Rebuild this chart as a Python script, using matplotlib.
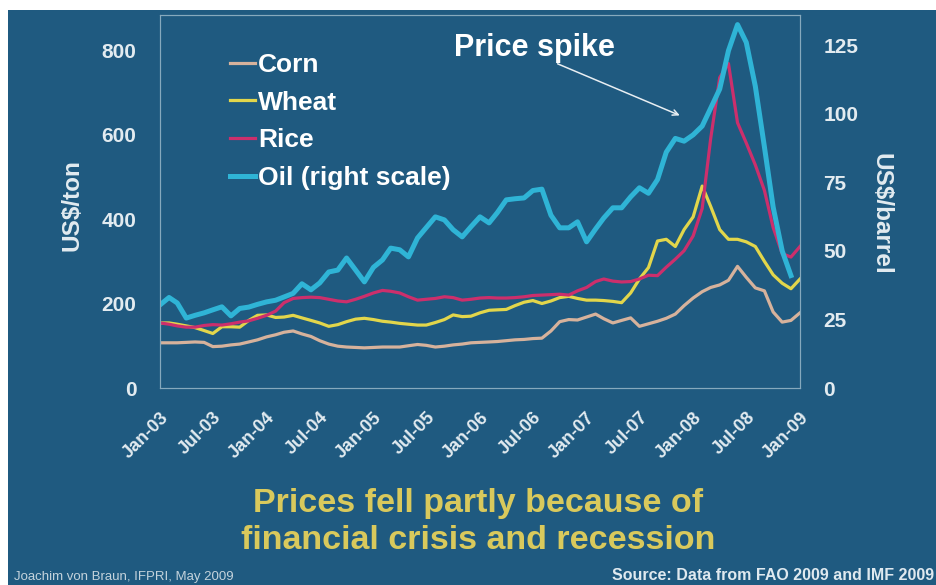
import matplotlib
matplotlib.use("Agg")
import matplotlib.pyplot as plt
import matplotlib.dates as mdates
from matplotlib.patches import Rectangle
import pandas as pd

plt.rcParams['font.family'] = ['Liberation Sans', 'DejaVu Sans']

# monthly prices, Jan-03 .. Jan-09 (US$/ton)
corn = [107, 107, 107, 108, 109, 108, 98, 99, 102, 104,
        109, 114, 121, 126, 132, 135, 128, 122, 112, 104,
        99, 97, 96, 95, 96, 97, 97, 97, 100, 103,
        101, 97, 99, 102, 104, 107, 108, 109, 110, 112,
        114, 115, 117, 118, 135, 157, 162, 161, 168, 175,
        164, 154, 160, 166, 146, 152, 158, 165, 175, 195,
        213, 228, 238, 244, 255, 288, 262, 237, 230, 180,
        156, 160, 178]
wheat = [154, 154, 151, 147, 143, 136, 129, 145, 145, 144,
         160, 172, 173, 167, 168, 172, 166, 160, 154, 146,
         150, 157, 163, 165, 162, 158, 156, 153, 151, 149,
         149, 155, 162, 173, 169, 170, 178, 184, 185, 186,
         195, 203, 207, 200, 206, 214, 217, 212, 208, 208,
         207, 205, 202, 225, 258, 285, 348, 352, 335, 375,
         405, 478, 430, 375, 352, 352, 346, 335, 300, 268,
         248, 235, 258]
rice = [154, 151, 147, 144, 144, 148, 150, 149, 152, 156,
        159, 165, 172, 182, 202, 212, 214, 215, 214, 210,
        206, 204, 210, 217, 225, 231, 229, 225, 216, 208,
        210, 212, 216, 214, 208, 210, 213, 214, 213, 213,
        214, 216, 219, 220, 221, 222, 220, 230, 238, 252,
        258, 253, 251, 252, 258, 267, 266, 286, 305, 325,
        360, 425, 590, 735, 768, 628, 580, 528, 468, 380,
        318, 310, 335]
# oil, Jan-03 .. Dec-08 (US$/barrel)
oil = [30.3, 33, 31, 25.5, 26.5, 27.4, 28.5, 29.6, 26.3, 29,
       29.5, 30.5, 31.4, 32, 33.2, 34.5, 38, 35.8, 38.3, 42.3,
       43, 47.4, 43, 38.7, 44, 46.7, 51, 50.4, 47.8, 54.7,
       58.5, 62.4, 61.3, 57.7, 55.1, 58.8, 62.4, 60.2, 63.9, 68.6,
       69, 69.3, 72, 72.5, 63, 58.4, 58.4, 60.6, 53.3, 58,
       62, 65.7, 65.7, 69.7, 73, 71, 76, 86, 91, 90,
       92.3, 95.5, 102, 109, 123, 132.5, 126, 110, 88, 66,
       50, 41]

months = pd.date_range('2003-01-01', periods=len(corn), freq='MS')
oil_months = months[:len(oil)]

bg = '#1f5a80'
fg = '#e2ebf0'

fig = plt.figure(figsize=(9.36, 5.85), dpi=100, facecolor=bg)
# white photo margins at top and left
fig.patches.append(Rectangle((0, 575 / 585), 1, 10 / 585, transform=fig.transFigure,
                             facecolor='white', edgecolor='none', zorder=-5))
fig.patches.append(Rectangle((0, 0), 8 / 936, 1, transform=fig.transFigure,
                             facecolor='white', edgecolor='none', zorder=-5))

ax = fig.add_axes([160 / 936, 1 - 388 / 585, 640 / 936, 373 / 585])
ax.set_facecolor('none')
l1, = ax.plot(months, corn, color='#d6b29c', lw=2.3, label='Corn')
l2, = ax.plot(months, wheat, color='#e2d64b', lw=2.3, label='Wheat')
l3, = ax.plot(months, rice, color='#cc2f6c', lw=2.3, label='Rice')
ax.set_ylim(0, 883)
ax.set_yticks([0, 200, 400, 600, 800])
ax.set_xlim(months[0], months[-1])

ax2 = ax.twinx()
l4, = ax2.plot(oil_months, oil, color='#2fb4d6', lw=3.6, label='Oil (right scale)')
ax2.set_ylim(0, 136)
ax2.set_yticks([0, 25, 50, 75, 100, 125])

for a in (ax, ax2):
    for s in a.spines.values():
        s.set_color('#86a9bd')
        s.set_linewidth(0.8)
    a.tick_params(length=0, colors=fg, labelsize=15)

for t in ax.get_yticklabels() + ax2.get_yticklabels():
    t.set_fontweight('bold')
ax.tick_params(axis='y', pad=17)
ax2.tick_params(axis='y', pad=17)

ax.xaxis.set_major_locator(mdates.MonthLocator(bymonth=[1, 7]))
ax.xaxis.set_major_formatter(mdates.DateFormatter('%b-%y'))
ax.tick_params(axis='x', pad=15, labelsize=13)
for t in ax.get_xticklabels():
    t.set_rotation(45)
    t.set_ha('right')
    t.set_va('top')
    t.set_rotation_mode('anchor')
    t.set_fontweight('bold')

fig.text(72 / 936, 1 - 205 / 585, 'US$/ton', rotation=90, ha='center', va='center',
         color=fg, fontsize=17.5, fontweight='bold')
fig.text(881 / 936, 1 - 214 / 585, 'US$/barrel', rotation=270, ha='center', va='center',
         color=fg, fontsize=17.5, fontweight='bold')

leg = ax2.legend(handles=[l1, l2, l3, l4], loc='upper left',
                 bbox_to_anchor=(230 / 936, 1 - 53 / 585), bbox_transform=fig.transFigure,
                 frameon=False, borderpad=0, borderaxespad=0, handlelength=0.95,
                 handletextpad=0.12, labelspacing=0.52,
                 prop={'size': 19, 'weight': 'bold'})
for t in leg.get_texts():
    t.set_color('white')

# price spike note
fig.text(534 / 936, 1 - 48 / 585, 'Price spike', ha='center', va='center',
         color='white', fontsize=22, fontweight='bold')
ax2.annotate('', xy=(pd.Timestamp('2007-11-25'), 99), xytext=(pd.Timestamp('2006-09-15'), 118.6),
             arrowprops=dict(arrowstyle='->', color='#e8eef2', lw=1.1))

fig.text(478 / 936, 1 - 522 / 585, 'Prices fell partly because of\nfinancial crisis and recession',
         ha='center', va='center', color='#d9c95c', fontsize=24.5, fontweight='bold',
         linespacing=1.25)
fig.text(14 / 936, 1 - 577 / 585, 'Joachim von Braun, IFPRI, May 2009', ha='left', va='center',
         color='#c4d3dc', fontsize=9.5)
fig.text(934 / 936, 1 - 576 / 585, 'Source: Data from FAO 2009 and IMF 2009', ha='right', va='center',
         color='#dfe9ef', fontsize=11.5, fontweight='bold')

fig.savefig('out.png', dpi=100, facecolor=fig.get_facecolor())
